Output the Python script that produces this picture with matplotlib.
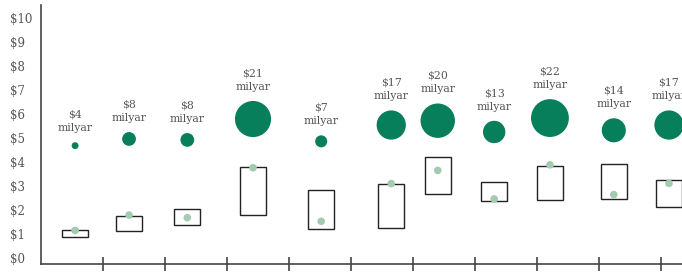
"""
Price ranges with market size bubbles.
"""

import matplotlib.pyplot as plt
from matplotlib.patches import Rectangle

# x position in years from the axis origin
POSITIONS = [0.55, 1.42, 2.36, 3.42, 4.52, 5.65, 6.40, 7.31, 8.21, 9.24, 10.13]
RANGE_LOW = [0.86, 1.14, 1.39, 1.78, 1.19, 1.26, 2.68, 2.39, 2.42, 2.46, 2.11]
RANGE_HIGH = [1.15, 1.74, 2.03, 3.81, 2.82, 3.07, 4.20, 3.18, 3.85, 3.90, 3.25]
MARKER_VALUES = [1.15, 1.79, 1.68, 3.76, 1.53, 3.10, 3.65, 2.46, 3.88, 2.64, 3.11]
BUBBLE_LEVELS = [4.68, 4.96, 4.92, 5.79, 4.86, 5.54, 5.72, 5.25, 5.83, 5.32, 5.54]
BUBBLE_BILLIONS = [4, 8, 8, 21, 7, 17, 20, 13, 22, 14, 17]
Y_TICKS = list(range(0, 11))
Y_TICK_LABELS = ["$%d" % v for v in Y_TICKS]
X_TICKS = list(range(1, 11))

DARK_GREEN = "#077f5a"
LIGHT_GREEN = "#a2cbb2"
TEXT_GREY = "#555555"
AXIS_GREY = "#444444"
BOX_WIDTH = 0.42

plt.rcParams["font.family"] = ["DejaVu Serif"]

fig = plt.figure(figsize=(6.82, 2.73), dpi=100)
ax = fig.add_axes([41 / 682, 9 / 273, 641 / 682, 259 / 273])

for x, lo, hi in zip(POSITIONS, RANGE_LOW, RANGE_HIGH):
    ax.add_patch(Rectangle((x - BOX_WIDTH / 2, lo), BOX_WIDTH, hi - lo,
                           facecolor="white", edgecolor="#222222",
                           linewidth=1.0, zorder=2, clip_on=False))

ax.scatter(POSITIONS, MARKER_VALUES, s=30, color=LIGHT_GREEN,
           edgecolors="none", zorder=3, clip_on=False)

# bubble diameter grows linearly with the market size
diam_pt = [1.72 * v * 0.72 for v in BUBBLE_BILLIONS]
ax.scatter(POSITIONS, BUBBLE_LEVELS, s=[d ** 2 for d in diam_pt],
           color=DARK_GREEN, edgecolors="none", zorder=3, clip_on=False)

for x, y, v, d in zip(POSITIONS, BUBBLE_LEVELS, BUBBLE_BILLIONS, diam_pt):
    ax.annotate("$%d\nmilyar" % v, (x, y), xytext=(0, d / 2 + 6.5),
                textcoords="offset points", ha="center", va="bottom",
                fontsize=7.8, color=TEXT_GREY, linespacing=1.45,
                annotation_clip=False)

ax.set_xlim(0, 10.34)
ax.set_ylim(-0.25, 10.54)
ax.set_yticks(Y_TICKS)
ax.set_yticklabels(Y_TICK_LABELS, ha="left")
ax.set_xticks(X_TICKS)
ax.set_xticklabels([])
ax.tick_params(axis="y", length=0, pad=22, labelsize=8.5, labelcolor=TEXT_GREY)
ax.tick_params(axis="x", direction="inout", length=10, width=1.2,
               color=AXIS_GREY)
for side in ["top", "right"]:
    ax.spines[side].set_visible(False)
for side in ["left", "bottom"]:
    ax.spines[side].set_color(AXIS_GREY)
    ax.spines[side].set_linewidth(1.2)

fig.savefig("out.png", dpi=100)
